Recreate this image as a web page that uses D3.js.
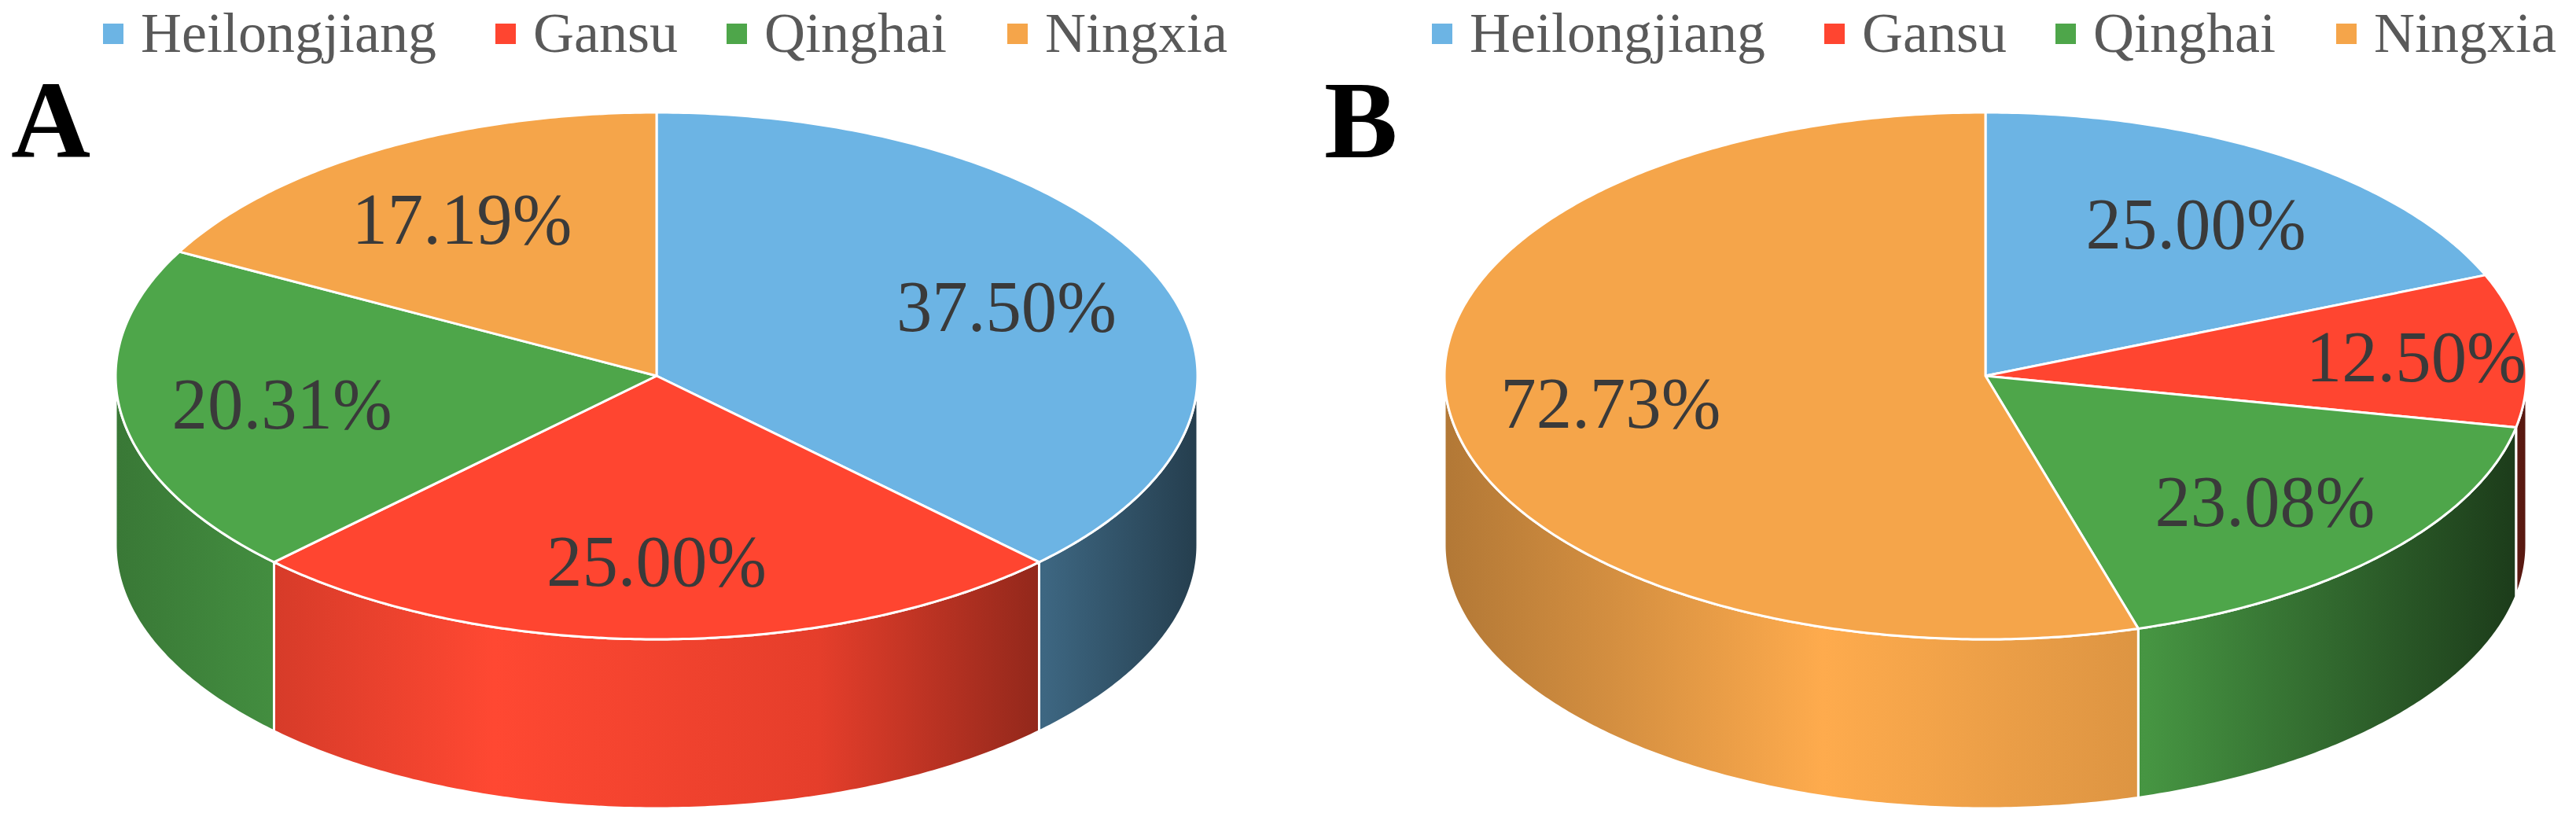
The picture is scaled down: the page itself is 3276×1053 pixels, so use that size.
<!DOCTYPE html>
<html>
<head>
<meta charset="utf-8">
<script src="https://cdn.jsdelivr.net/npm/d3@7"></script>
<style>
  body { margin: 0; background: #fff; }
</style>
</head>
<body>
<div id="chart"></div>
<script>
// data
var categories = ["Heilongjiang", "Gansu", "Qinghai", "Ningxia"];
var valuesA = [37.50, 25.00, 20.31, 17.19];
var valuesB = [25.00, 12.50, 23.08, 72.73];
var panelLabels = ["A", "B"];
var colors = ["#6cb4e4", "#ff4530", "#4ea64a", "#f5a54a"];

var W = 3276, H = 1053;
var rx = 688, ry = 335, depth = 215;
var panelOffset = 1690;

var svg = d3.select("#chart").append("svg")
  .attr("width", W).attr("height", H);
var defs = svg.append("defs");

var pie = d3.pie().sort(null).value(function(d) { return d; })
  .startAngle(0).endAngle(2 * Math.PI);

function drawPanel(values, label, i) {
  var cx = 835 + i * panelOffset, cy = 478;
  var g = svg.append("g");

  function pt(a, k, dz) {
    return [cx + rx * k * Math.sin(a), cy - ry * k * Math.cos(a) + dz];
  }
  function arcPts(a0, a1, dz) {
    var n = Math.max(2, Math.ceil((a1 - a0) / 0.01));
    return d3.range(n + 1).map(function(j) { return pt(a0 + (a1 - a0) * j / n, 1, dz); });
  }

  // gradients for side walls
  colors.forEach(function(c, k) {
    var gr = defs.append("linearGradient")
      .attr("id", "side" + i + "_" + k)
      .attr("gradientUnits", "userSpaceOnUse")
      .attr("x1", cx - rx).attr("x2", cx + rx).attr("y1", 0).attr("y2", 0);
    var base = d3.color(c);
    gr.append("stop").attr("offset", 0).attr("stop-color", base.darker(0.9));
    gr.append("stop").attr("offset", 0.35).attr("stop-color", base.brighter(0.1));
    gr.append("stop").attr("offset", 0.65).attr("stop-color", base.darker(0.3));
    gr.append("stop").attr("offset", 1).attr("stop-color", base.darker(3));
  });

  var arcs = pie(values);

  // side walls (front half only)
  arcs.forEach(function(d, k) {
    var a0 = Math.max(d.startAngle, Math.PI / 2),
        a1 = Math.min(d.endAngle, 3 * Math.PI / 2);
    if (a1 <= a0) return;
    var top = arcPts(a0, a1, 0), bot = arcPts(a0, a1, depth).reverse();
    g.append("path")
      .attr("d", d3.line()(top.concat(bot)) + "Z")
      .attr("fill", "url(#side" + i + "_" + k + ")")
      .attr("stroke", "#fff").attr("stroke-width", 3).attr("stroke-linejoin", "round");
  });

  // top faces
  arcs.forEach(function(d, k) {
    var p = [pt(0, 0, 0)].concat(arcPts(d.startAngle, d.endAngle, 0));
    g.append("path")
      .attr("d", d3.line()(p) + "Z")
      .attr("fill", colors[k])
      .attr("stroke", "#fff").attr("stroke-width", 3).attr("stroke-linejoin", "round");
  });

  // value labels
  arcs.forEach(function(d, k) {
    var m = (d.startAngle + d.endAngle) / 2;
    var k2 = (d.endAngle - d.startAngle) < 0.9 ? 0.8 : 0.7;
    var p = pt(m, k2, 0);
    g.append("text")
      .attr("x", p[0]).attr("y", p[1])
      .attr("text-anchor", "middle").attr("dy", "0.35em")
      .attr("font-family", "Liberation Serif, serif")
      .attr("font-size", 94).attr("fill", "#3a3a3a")
      .attr("textLength", 280).attr("lengthAdjust", "spacingAndGlyphs")
      .text(d.data.toFixed(2) + "%");
  });

  // panel letter
  svg.append("text")
    .attr("x", 14 + i * 1670).attr("y", 200)
    .attr("font-family", "Liberation Serif, serif").attr("font-weight", "bold")
    .attr("font-size", 140).attr("fill", "#000")
    .text(label);

  // legend
  var legX = [131, 630, 924, 1281];
  var lg = svg.append("g").attr("transform", "translate(" + (i * panelOffset) + ",0)");
  categories.forEach(function(c, k) {
    lg.append("rect").attr("x", legX[k]).attr("y", 30).attr("width", 26).attr("height", 26)
      .attr("fill", colors[k]);
    lg.append("text").attr("x", legX[k] + 48).attr("y", 66)
      .attr("font-family", "Liberation Serif, serif").attr("font-size", 72)
      .attr("fill", "#595959").text(c);
  });
}

drawPanel(valuesA, panelLabels[0], 0);
drawPanel(valuesB, panelLabels[1], 1);
</script>
</body>
</html>
